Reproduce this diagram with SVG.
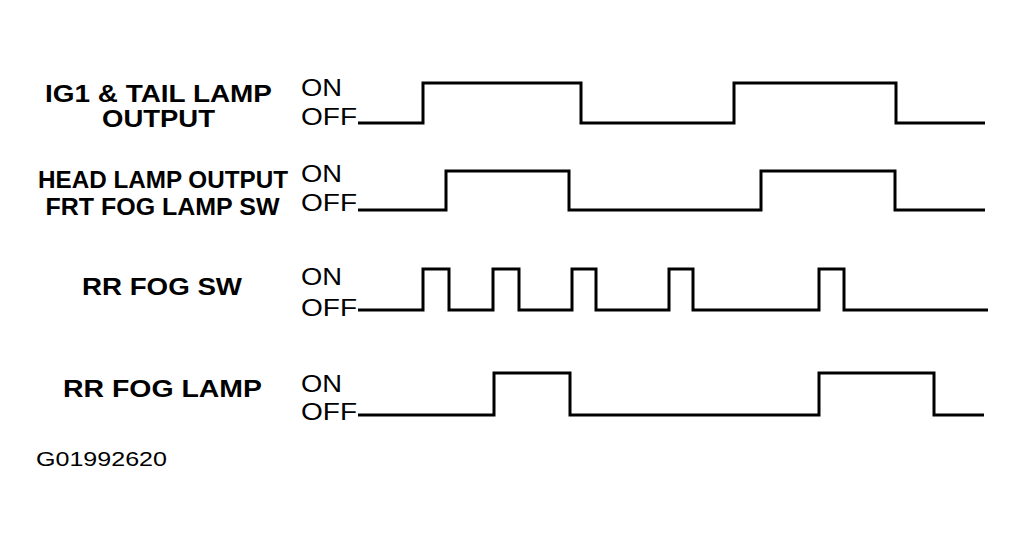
<svg xmlns="http://www.w3.org/2000/svg" width="1026" height="544" viewBox="0 0 1026 544">
<style>
.lbl{font-family:"Liberation Sans",Arial,sans-serif;font-weight:bold;fill:#000;text-anchor:middle}
.st{font-family:"Liberation Sans",Arial,sans-serif;font-size:23px;fill:#000}
.wave{fill:none;stroke:#000;stroke-width:3;stroke-linejoin:miter}
</style>
<rect width="1026" height="544" fill="#fff"/>
<g id="row1">
<text class="lbl" x="158.5" y="102" font-size="24" textLength="227" lengthAdjust="spacingAndGlyphs">IG1 &amp; TAIL LAMP</text>
<text class="lbl" x="158.5" y="127" font-size="24" textLength="113" lengthAdjust="spacingAndGlyphs">OUTPUT</text>
<text class="st" x="301" y="96" textLength="41" lengthAdjust="spacingAndGlyphs">ON</text>
<text class="st" x="301" y="125" textLength="56" lengthAdjust="spacingAndGlyphs">OFF</text>
</g>
<g id="row2">
<text class="lbl" x="163" y="188" font-size="23" textLength="250" lengthAdjust="spacingAndGlyphs">HEAD LAMP OUTPUT</text>
<text class="lbl" x="162.5" y="215" font-size="23" textLength="234" lengthAdjust="spacingAndGlyphs">FRT FOG LAMP SW</text>
<text class="st" x="301" y="182" textLength="41" lengthAdjust="spacingAndGlyphs">ON</text>
<text class="st" x="301" y="211" textLength="56" lengthAdjust="spacingAndGlyphs">OFF</text>
</g>
<g id="row3">
<text class="lbl" x="162" y="295" font-size="24" textLength="160" lengthAdjust="spacingAndGlyphs">RR FOG SW</text>
<text class="st" x="301" y="285" textLength="41" lengthAdjust="spacingAndGlyphs">ON</text>
<text class="st" x="301" y="316" textLength="56" lengthAdjust="spacingAndGlyphs">OFF</text>
</g>
<g id="row4">
<text class="lbl" x="162.5" y="397" font-size="24" textLength="199" lengthAdjust="spacingAndGlyphs">RR FOG LAMP</text>
<text class="st" x="301" y="392" textLength="41" lengthAdjust="spacingAndGlyphs">ON</text>
<text class="st" x="301" y="420" textLength="56" lengthAdjust="spacingAndGlyphs">OFF</text>
</g>
<g id="connectors">
<polyline class="wave" points="358,123 423,123 423,83 581,83 581,123 734,123 734,83 896,83 896,123 985,123"/>
<polyline class="wave" points="358,210 446,210 446,171 569,171 569,210 761,210 761,171 895,171 895,210 985,210"/>
<polyline class="wave" points="358,310 423,310 423,269 449,269 449,310 493,310 493,269 519,269 519,310 572,310 572,269 596,269 596,310 669,310 669,269 693,269 693,310 819,310 819,269 844,269 844,310 988,310"/>
<polyline class="wave" points="358,415 494,415 494,373 570,373 570,415 819,415 819,373 934,373 934,415 984,415"/>
</g>
<text x="36" y="466" style="font-family:'Liberation Sans',Arial,sans-serif;font-size:20px;fill:#000" textLength="131" lengthAdjust="spacingAndGlyphs">G01992620</text>
</svg>
